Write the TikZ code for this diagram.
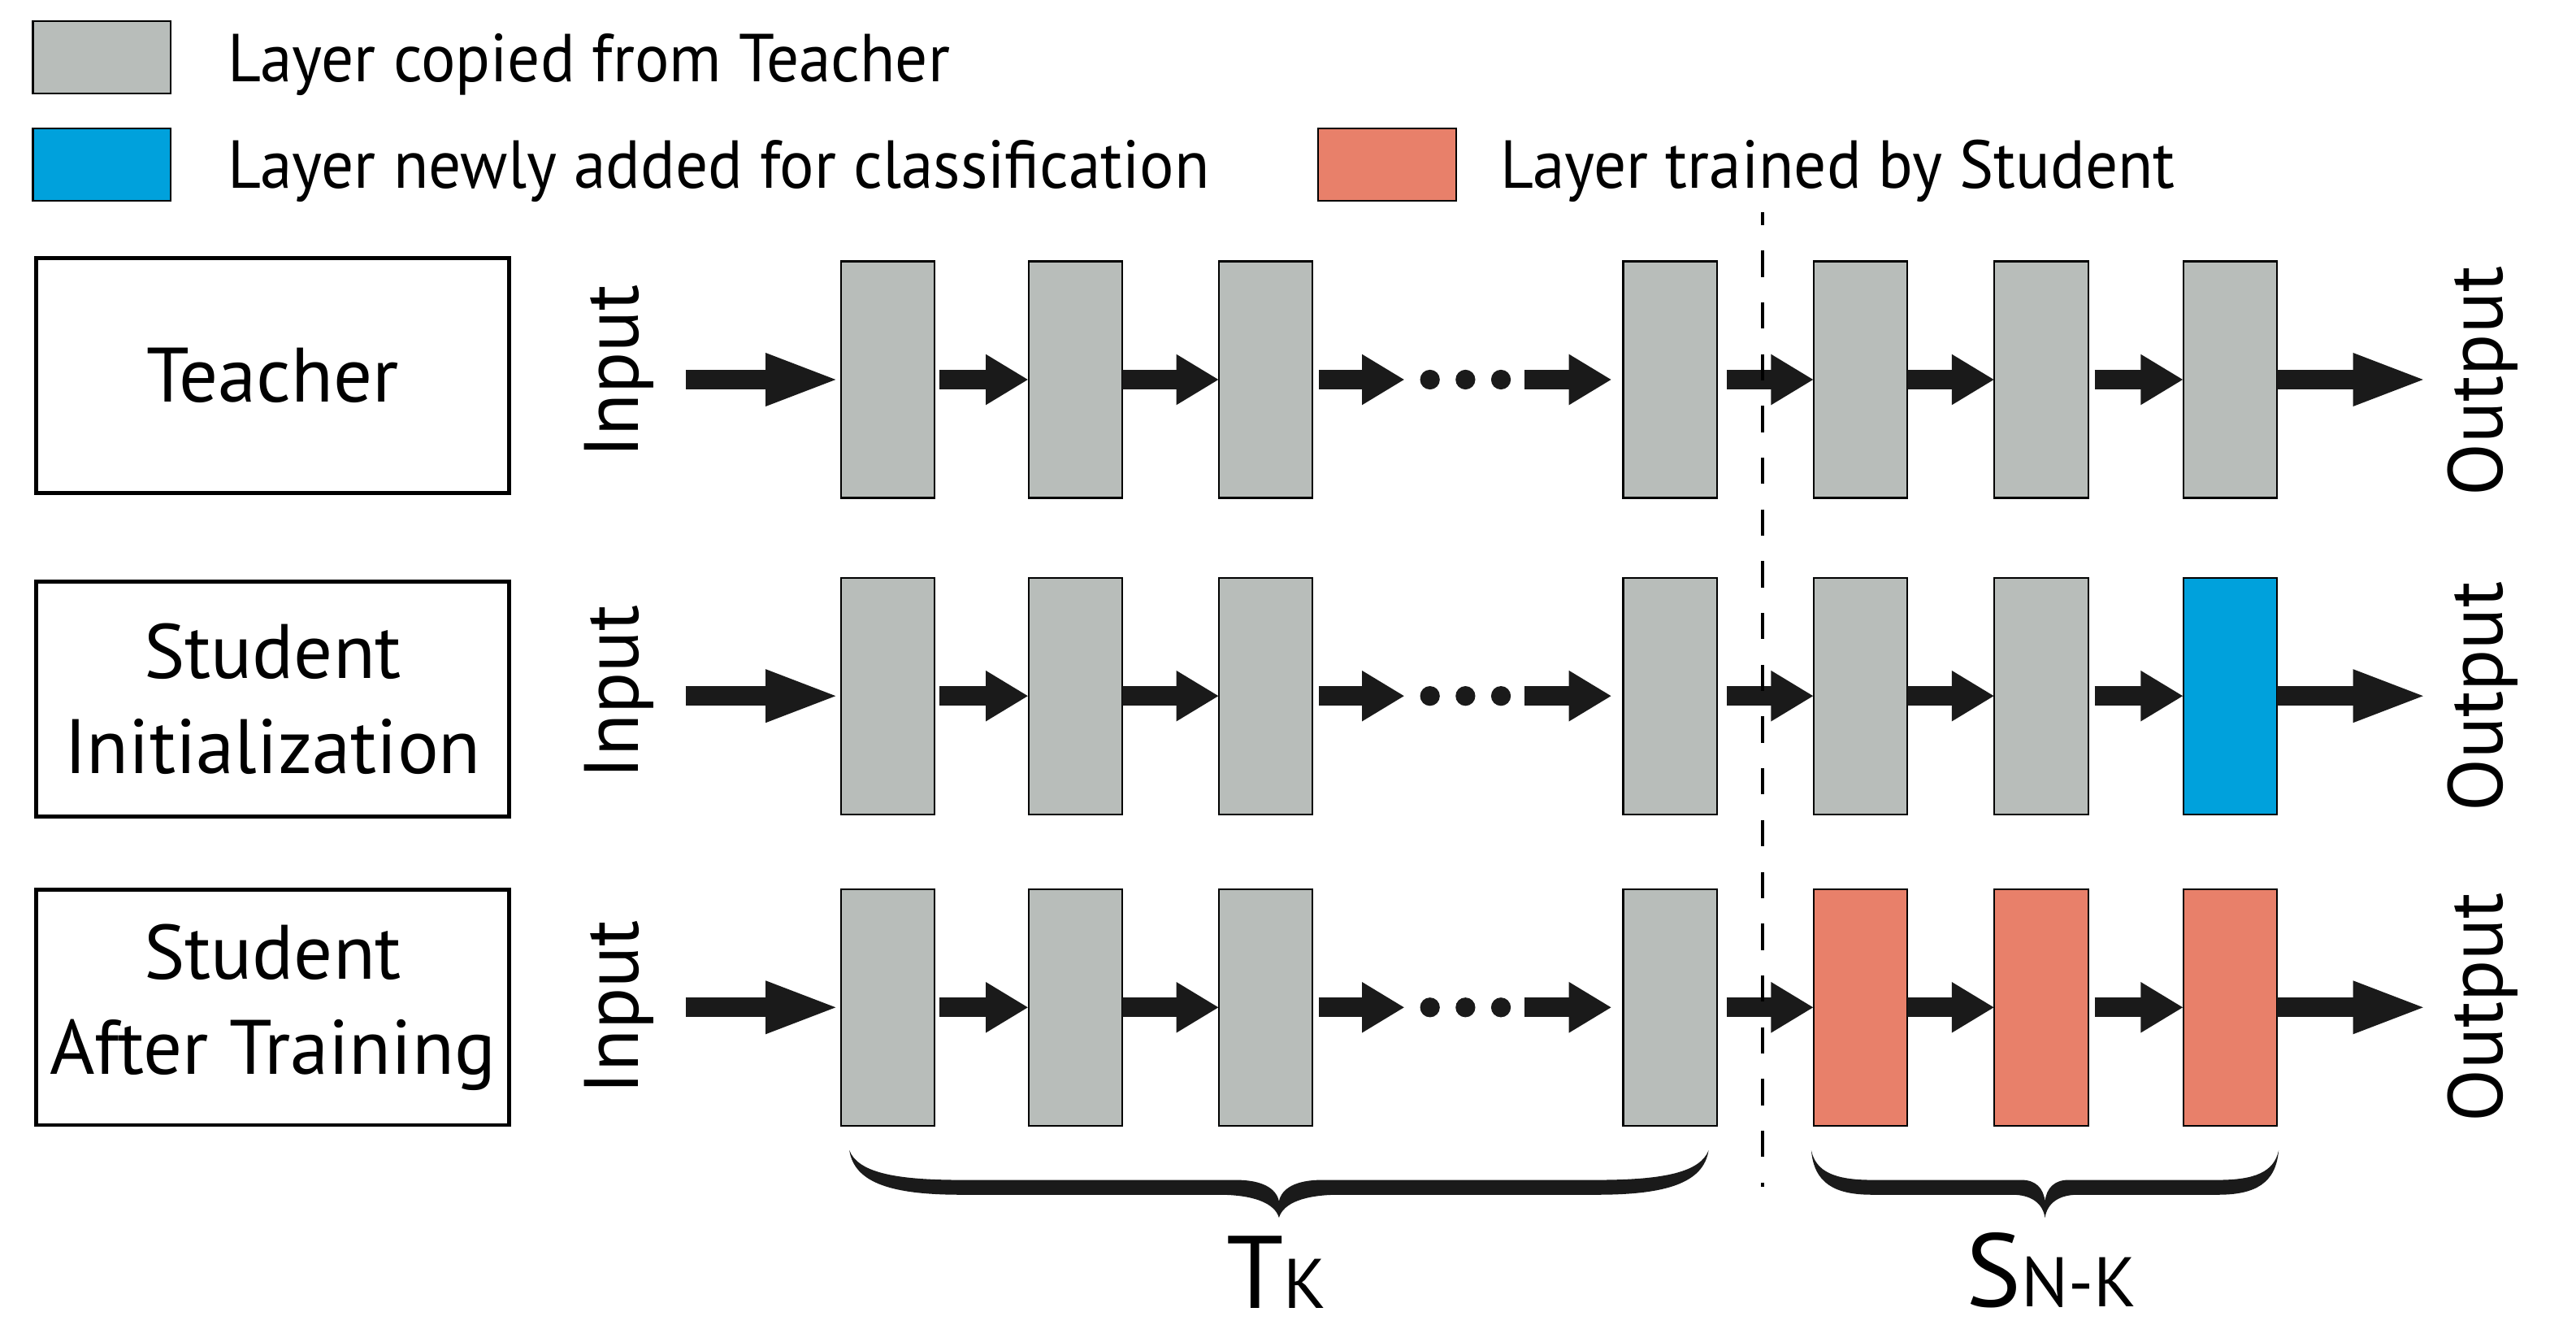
\documentclass[tikz,border=0pt]{standalone}
\usepackage{fontspec}
\setmainfont{PT Sans}
\newfontfamily\legendfont[FakeStretch=0.95]{PT Sans}
\usepackage{xcolor}
\usetikzlibrary{positioning,arrows.meta}

\definecolor{layergray}{RGB}{184,189,186}
\definecolor{newblue}{RGB}{0,161,220}
\definecolor{trainred}{RGB}{232,128,106}
\definecolor{arrowblack}{RGB}{26,26,26}

% curly brace drawn as a filled shape: left edge, width (cm)
\newcommand{\fatbrace}[2]{%
  \begin{scope}[shift={(#1,0)},xscale=#2]
    \fill[arrowblack] (0,-14.00) .. controls (0.006,-14.40) and (0.05,-14.54) .. (0.13,-14.54)
      -- (0.43,-14.54) .. controls (0.47,-14.54) and (0.495,-14.64) .. (0.5,-14.82)
      .. controls (0.505,-14.64) and (0.53,-14.54) .. (0.57,-14.54)
      -- (0.87,-14.54) .. controls (0.95,-14.54) and (0.994,-14.40) .. (1,-14.00)
      .. controls (0.99,-14.26) and (0.95,-14.36) .. (0.87,-14.36)
      -- (0.55,-14.36) .. controls (0.52,-14.36) and (0.503,-14.46) .. (0.5,-14.62)
      .. controls (0.497,-14.46) and (0.48,-14.36) .. (0.45,-14.36)
      -- (0.13,-14.36) .. controls (0.05,-14.36) and (0.01,-14.26) .. (0,-14.00) -- cycle;
  \end{scope}}

\begin{document}
\begin{tikzpicture}[
  layer/.style={rectangle, draw=black, line width=0.6pt, fill=layergray, minimum width=1.14cm, minimum height=2.88cm, inner sep=0pt, outer sep=0pt},
  rowbox/.style={rectangle, draw=black, line width=1.3pt, minimum width=5.76cm, minimum height=2.86cm, align=center, font=\fontsize{26.7}{32.9}\selectfont},
  legbox/.style={rectangle, draw=black, line width=0.6pt, minimum width=1.68cm, minimum height=0.88cm},
  legtext/.style={inner sep=0pt, text depth=0pt, font=\legendfont\fontsize{23.5}{28}\selectfont},
  sidetext/.style={rotate=90, inner sep=0pt, font=\fontsize{26.7}{32}\selectfont},
  gapnode/.style={minimum width=1.08cm, minimum height=0.3cm, inner sep=0pt, outer sep=0pt},
  dotnode/.style={fill=arrowblack, inner sep=0pt, minimum size=0.24cm, circle},
  flow/.style={arrowblack, line width=0.24cm, -{Triangle[length=0.52cm,width=0.58cm]}},
  bigflow/.style={arrowblack, line width=0.24cm, -{Triangle[length=0.92cm,width=0.57cm]}},
  cutline/.style={line width=1.1pt, dash pattern=on 0.32cm off 0.31cm, dash phase=0.16cm}
]
\useasboundingbox (0,0) rectangle (31.36,-16.12);

%Legend
\node[legbox, fill=layergray] (leggray) at (1.24,-0.70) {};
\node[legbox, fill=newblue] (legblue) at (1.24,-2.00) {};
\node[legbox, fill=trainred] (legred) at (16.89,-2.00) {};
\node[legtext, right=0.68cm of leggray] (txtgray) {Layer copied from Teacher};
\node[legtext, right=0.68cm of legblue] (txtblue) {Layer newly added for classification};
\node[legtext, right=0.52cm of legred] (txtred) {Layer trained by Student};

%Row labels
\node[rowbox] (teacher) at (3.32,-4.57) {Teacher};
\node[rowbox] (stinit) at (3.32,-8.51) {Student\\Initialization};
\node[rowbox] (sttrain) at (3.32,-12.26) {Student\\After Training};

%Teacher row
\node[sidetext] (in1) at (7.54,-4.52) {Input};
\node[layer] (t1) at (10.81,-4.62) {};
\node[layer, right=1.14cm of t1] (t2) {};
\node[layer, right=1.18cm of t2] (t3) {};
\node[gapnode, right=1.32cm of t3] (tdots) {};
\node[layer, right=1.38cm of tdots] (t4) {};
\node[layer, right=1.18cm of t4] (t5) {};
\node[layer, right=1.06cm of t5] (t6) {};
\node[layer, right=1.16cm of t6] (t7) {};
\node[sidetext] (out1) at (30.22,-4.64) {Output};

%Initialization row
\node[sidetext] (in2) at (7.54,-8.42) {Input};
\node[layer] (s1) at (10.81,-8.47) {};
\node[layer, right=1.14cm of s1] (s2) {};
\node[layer, right=1.18cm of s2] (s3) {};
\node[gapnode, right=1.32cm of s3] (sdots) {};
\node[layer, right=1.38cm of sdots] (s4) {};
\node[layer, right=1.18cm of s4] (s5) {};
\node[layer, right=1.06cm of s5] (s6) {};
\node[layer, fill=newblue, right=1.16cm of s6] (s7) {};
\node[sidetext] (out2) at (30.22,-8.48) {Output};

%Trained row
\node[sidetext] (in3) at (7.54,-12.26) {Input};
\node[layer] (r1) at (10.81,-12.26) {};
\node[layer, right=1.14cm of r1] (r2) {};
\node[layer, right=1.18cm of r2] (r3) {};
\node[gapnode, right=1.32cm of r3] (rdots) {};
\node[layer, right=1.38cm of rdots] (r4) {};
\node[layer, fill=trainred, right=1.18cm of r4] (r5) {};
\node[layer, fill=trainred, right=1.06cm of r5] (r6) {};
\node[layer, fill=trainred, right=1.16cm of r6] (r7) {};
\node[sidetext] (out3) at (30.22,-12.26) {Output};

%Arrows
\draw[bigflow, shorten <=0.38cm] (in1.south |- t1.west) -- (t1.west);
\draw[flow, shorten <=0.06cm] (t1) -- (t2);
\draw[flow] (t2) -- (t3);
\draw[flow, shorten <=0.08cm, shorten >=0.2cm] (t3) -- (tdots);
\draw[flow, shorten <=0.18cm, shorten >=0.14cm] (tdots) -- (t4);
\draw[flow, shorten <=0.12cm] (t4) -- (t5);
\draw[flow] (t5) -- (t6);
\draw[flow, shorten <=0.08cm] (t6) -- (t7);
\draw[bigflow, shorten >=0.22cm] (t7.east) -- (out1.north |- t7.east);

\draw[bigflow, shorten <=0.38cm] (in2.south |- s1.west) -- (s1.west);
\draw[flow, shorten <=0.06cm] (s1) -- (s2);
\draw[flow] (s2) -- (s3);
\draw[flow, shorten <=0.08cm, shorten >=0.2cm] (s3) -- (sdots);
\draw[flow, shorten <=0.18cm, shorten >=0.14cm] (sdots) -- (s4);
\draw[flow, shorten <=0.12cm] (s4) -- (s5);
\draw[flow] (s5) -- (s6);
\draw[flow, shorten <=0.08cm] (s6) -- (s7);
\draw[bigflow, shorten >=0.22cm] (s7.east) -- (out2.north |- s7.east);

\draw[bigflow, shorten <=0.38cm] (in3.south |- r1.west) -- (r1.west);
\draw[flow, shorten <=0.06cm] (r1) -- (r2);
\draw[flow] (r2) -- (r3);
\draw[flow, shorten <=0.08cm, shorten >=0.2cm] (r3) -- (rdots);
\draw[flow, shorten <=0.18cm, shorten >=0.14cm] (rdots) -- (r4);
\draw[flow, shorten <=0.12cm] (r4) -- (r5);
\draw[flow] (r5) -- (r6);
\draw[flow, shorten <=0.08cm] (r6) -- (r7);
\draw[bigflow, shorten >=0.22cm] (r7.east) -- (out3.north |- r7.east);

%Dots
\path (tdots.west) -- node[dotnode,pos=0.1]{} node[dotnode,pos=0.5]{} node[dotnode,pos=0.9]{} (tdots.east);
\path (sdots.west) -- node[dotnode,pos=0.1]{} node[dotnode,pos=0.5]{} node[dotnode,pos=0.9]{} (sdots.east);
\path (rdots.west) -- node[dotnode,pos=0.1]{} node[dotnode,pos=0.5]{} node[dotnode,pos=0.9]{} (rdots.east);

%Split line
\coordinate (cuttop) at (21.46,-2.58);
\coordinate (cutbot) at (21.46,-14.44);
\draw[cutline] (cuttop) -- (cutbot);

%Braces
\fatbrace{10.34}{10.46}
\fatbrace{22.05}{5.69}
\node[anchor=base, inner sep=0pt] (tk) at (15.54,-15.92) {\fontsize{35.7}{36}\selectfont T\fontsize{24.3}{25}\selectfont K};
\node[anchor=base, inner sep=0pt] (snk) at (24.97,-15.90) {\fontsize{36}{36}\selectfont S\fontsize{24.3}{25}\selectfont N-K};
\end{tikzpicture}
\end{document}
